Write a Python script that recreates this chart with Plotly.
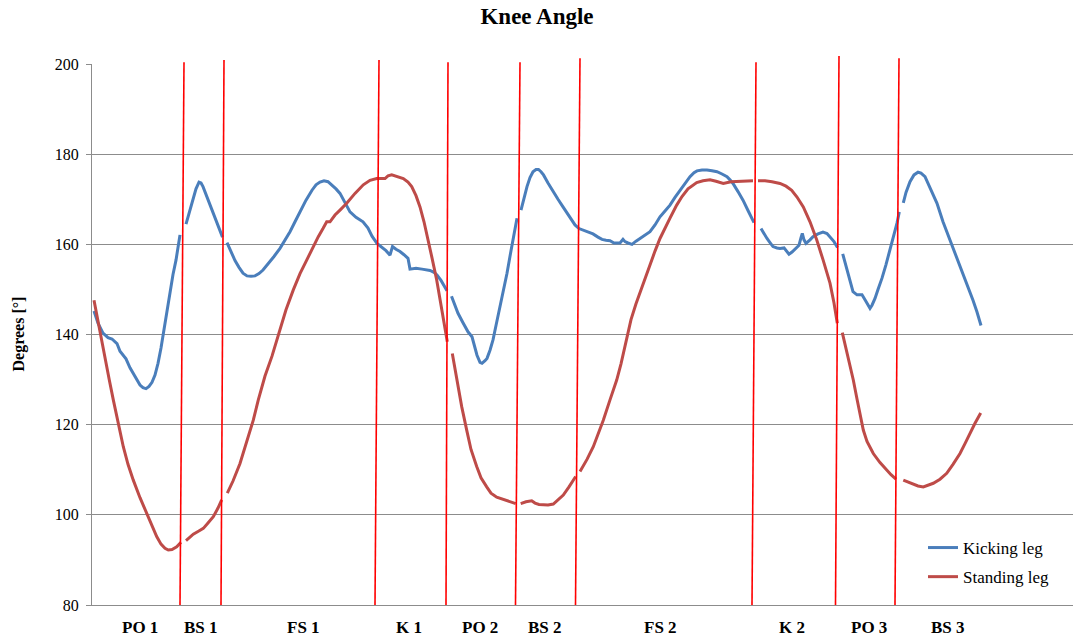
import plotly.graph_objects as go

# ---------------- data (frame index vs knee angle in degrees) ----------------
# Kicking leg, segments separated by None (gaps at phase boundaries)
kick_x = [94, 98, 103, 108, 112, 117, 120, 123, 126, 130, 135, 140, 143, 146, 149, 152, 155, 158, 161, 164, 167, 170, 173, 176, 180, None,
          186, 189, 192, 196, 199, 201, 203, 207, 211, 215, 219, 222.5, None,
          227, 231, 235, 239, 243, 247, 251, 255, 259, 263, 268, 274, 280, 285, 290, 295, 300, 306, 312, 316, 320, 324, 328, 332, 336, 340,
          345, 350, 356, 363, 368, 372, 377, 382, 386, 390, 392.5, 396, 400, 404, 408, 410, 416, 422, 430, 434, 437, 441, 444, 447, None,
          451.5, 455, 458, 463, 468, 472, 474, 477, 480, 482, 485, 487, 490, 493, 496, 500, 503, 507, 511, 514, 517, None,
          521, 524, 527, 530, 533, 536, 538.5, 541, 543.5, 548, 553, 558, 563, 569, 575, 579, 583, 588, 593, 598, 602, 606, 610, 614, 616,
          620, 623, 625, 628, 632, 636, 640, 645, 650, 655, 660, 665, 670, 675, 680, 685, 690, 694, 697, 702, 707, 712, 717, 722, 727, 730,
          733, 738, 743, 748, 754, None,
          761, 764, 767, 770, 773, 777, 780, 784, 786, 789, 792, 795, 799, 801, 802.3, 804, 806, 810, 813, 818, 823, 827, 830, 834, 837.5, None,
          842.7, 845, 848, 851, 853, 857, 862, 865, 868, 870, 872, 875, 878, 882, 886, 890, 894, 897, 899.3, None,
          903.3, 906, 910, 914, 918, 921, 925, 928, 932, 937, 943, 950, 957, 963, 968, 973, 977, 981]
kick_y = [145.2, 142.5, 140.3, 139.3, 139.0, 138.0, 136.3, 135.5, 134.6, 132.6, 130.6, 128.8, 128.2, 128.0, 128.5, 129.4, 131.0, 133.6, 137.0, 141.0, 145.5, 149.8, 153.3, 156.5, 162.1, None,
          164.5, 166.8, 169.2, 172.3, 173.8, 173.6, 172.8, 170.5, 168.2, 166.0, 163.5, 161.6, None,
          160.4, 158.3, 156.4, 154.9, 153.6, 153.0, 152.9, 153.0, 153.5, 154.3, 155.6, 157.3, 159.1, 160.9, 162.8, 165.0, 167.2, 169.8, 172.0, 173.2, 173.8, 174.1, 173.9, 173.2, 172.3, 171.3,
          169.4, 167.2, 166.0, 165.0, 163.6, 161.8, 160.2, 159.3, 158.6, 157.6, 159.5, 158.9, 158.4, 157.7, 156.9, 154.5, 154.7, 154.5, 154.2, 153.8, 153.2, 152.0, 150.8, 149.7, None,
          148.5, 146.5, 144.7, 142.6, 140.6, 139.5, 138.0, 135.4, 133.8, 133.6, 134.2, 134.7, 136.5, 138.8, 142.0, 146.2, 149.5, 153.6, 158.6, 162.0, 165.8, None,
          167.6, 170.3, 172.8, 174.8, 176.1, 176.6, 176.6, 176.1, 175.4, 173.6, 171.7, 170.0, 168.3, 166.3, 164.3, 163.5, 163.2, 162.7, 162.3, 161.6, 161.1, 160.9, 160.8, 160.3, 160.3,
          160.3, 161.1, 160.6, 160.3, 160.0, 160.7, 161.3, 162.0, 162.8, 164.3, 166.1, 167.4, 168.7, 170.4, 172.0, 173.6, 175.0, 175.9, 176.3, 176.5, 176.5, 176.3, 176.1, 175.6, 175.0, 174.3,
          173.5, 171.7, 169.8, 167.5, 164.8, None,
          163.5, 162.3, 161.3, 160.4, 159.5, 159.2, 159.1, 159.2, 158.6, 157.8, 158.3, 158.9, 159.8, 161.5, 162.4, 161.0, 160.2, 161.0, 161.7, 162.3, 162.7, 162.4, 161.7, 160.6, 159.3, None,
          157.9, 156.0, 153.6, 151.2, 149.5, 148.8, 148.8, 147.7, 146.6, 145.8, 146.5, 148.0, 150.0, 152.5, 155.5, 158.7, 162.0, 164.7, 167.2, None,
          169.2, 171.5, 173.9, 175.4, 176.0, 175.8, 175.0, 173.5, 171.3, 169.1, 165.0, 161.0, 157.2, 153.6, 150.5, 147.6, 145.0, 142.0]

# Standing leg
stand_x = [94, 97, 100, 103, 106, 109.3, 113.3, 118, 123.3, 128, 133.3, 140, 146.7, 151, 156.7, 161, 165, 168.3, 172, 176.7, 181, None,
           186, 190, 193.3, 198, 203.3, 208, 213.3, 218, 221.7, None,
           227.3, 233, 240, 246, 253.3, 258.3, 265, 272, 280, 286, 293.3, 300, 306.7, 312, 318.3, 323, 326.7, 330, 335, 340, 346.7, 355, 363.3,
           370, 376.7, 385, 388, 391.7, 397, 403.3, 408, 411.7, 416, 420, 424, 428.3, 432, 436.7, 442, 447.3, None,
           452.3, 456.7, 461.7, 466.7, 471, 476.7, 481, 486.7, 491, 496.7, 501, 506.7, 511, 515.7, None,
           520.7, 526, 531.7, 535, 539, 543.3, 548, 553.3, 558, 563.3, 569, 575.7, None,
           580, 587, 593.3, 598, 603.3, 610, 616.7, 621, 626.7, 631, 636, 643.3, 650, 655, 660, 665, 670, 676.7, 682, 688, 696.7, 703, 710, 716,
           723.3, 731, 740, 747, 753, None,
           758, 765, 772, 780, 786, 791.7, 797, 803.3, 810, 816.7, 823, 830, 834, 837.3, None,
           842.3, 846, 850, 853.3, 857, 860, 863.3, 867, 873.3, 880, 886.7, 891, 896, None,
           903.3, 908, 913.3, 918, 923.3, 928, 933.3, 940, 946.7, 953, 960, 965, 970, 975, 980.7]
stand_y = [147.6, 144.0, 140.5, 137.0, 133.5, 129.9, 125.5, 120.3, 115.1, 111.2, 107.7, 103.8, 100.3, 98.0, 95.2, 93.5, 92.6, 92.2, 92.3, 92.9, 93.9, None,
           94.3, 95.0, 95.7, 96.3, 97.0, 98.2, 99.6, 101.5, 103.3, None,
           104.8, 107.5, 111.4, 115.5, 121.0, 125.5, 130.8, 135.2, 141.0, 145.5, 149.9, 153.5, 156.5, 159.0, 161.7, 163.5, 165.0, 165.0, 166.5, 167.6, 169.1, 171.3, 173.2,
           174.2, 174.6, 174.6, 175.2, 175.4, 175.0, 174.6, 173.8, 172.8, 170.8, 168.3, 165.0, 161.0, 157.0, 152.1, 145.5, 138.4, None,
           135.8, 129.9, 124.0, 118.8, 114.5, 110.7, 108.2, 106.2, 104.8, 103.9, 103.6, 103.3, 102.9, 102.5, None,
           102.5, 102.9, 103.1, 102.6, 102.3, 102.2, 102.2, 102.4, 103.3, 104.4, 106.2, 108.5, None,
           109.6, 112.3, 115.1, 117.8, 121.0, 125.5, 129.9, 133.5, 139.5, 143.3, 146.8, 151.4, 155.2, 158.5, 161.3, 163.7, 165.8, 168.7, 170.6, 172.3, 173.7, 174.1, 174.3, 174.0,
           173.5, 173.9, 174.0, 174.1, 174.1, None,
           174.1, 174.1, 173.9, 173.5, 172.9, 172.0, 170.5, 168.3, 165.0, 161.0, 156.6, 151.4, 147.0, 142.5, None,
           140.4, 137.0, 133.4, 129.9, 125.7, 122.4, 118.8, 116.3, 113.6, 111.6, 109.9, 108.9, 107.9, None,
           107.7, 107.3, 106.8, 106.4, 106.2, 106.5, 107.0, 107.9, 109.2, 111.2, 113.6, 115.8, 118.1, 120.3, 122.6]

# Phase boundary markers (hand-drawn red lines): frame at bottom, frame at top, top angle
phase_bottom_x = [180, 221, 375, 446, 515.5, 575.5, 752, 835.5, 895]
phase_top_x = [184, 224, 379, 448, 520, 580, 756, 839, 899]
phase_top_y = [200.4, 200.9, 200.9, 200.4, 200.4, 201.3, 200.4, 201.8, 201.3]

# Phase labels
phase_labels = ["PO 1", "BS 1", "FS 1", "K 1", "PO 2", "BS 2", "FS 2", "K 2", "PO 3", "BS 3"]
phase_label_x = [140, 201, 303, 409, 480, 545, 660, 792, 869, 948]

Y_MIN, Y_MAX = 80, 200
X_MIN, X_MAX = 92, 1073

FIG_W, FIG_H = 1073, 638
PLOT_TOP, PLOT_H = 64, 541

SERIF = "Liberation Serif, Times New Roman, serif"
BLUE = "#4A7EBB"
RED = "#BE4B48"
GRID = "#8C8C8C"

fig = go.Figure()
fig.add_trace(go.Scatter(x=kick_x, y=kick_y, mode="lines", name="Kicking leg",
                         line=dict(color=BLUE, width=3), connectgaps=False,
                         legendgroup="a"))
fig.add_trace(go.Scatter(x=stand_x, y=stand_y, mode="lines", name="Standing leg",
                         line=dict(color=RED, width=3), connectgaps=False,
                         legendgroup="b"))

for xb, xt, yt in zip(phase_bottom_x, phase_top_x, phase_top_y):
    fig.add_shape(type="line", xref="x", yref="paper",
                  x0=xb, y0=0, x1=xt, y1=(yt - Y_MIN) / (Y_MAX - Y_MIN),
                  line=dict(color="#FF0000", width=1.6), layer="above")

for lab, lx in zip(phase_labels, phase_label_x):
    fig.add_annotation(x=lx, xref="x", y=0, yref="paper", yshift=-22,
                       text=f"<b>{lab}</b>", showarrow=False,
                       xanchor="center", yanchor="middle",
                       font=dict(family=SERIF, size=17, color="#000000"))

fig.add_annotation(x=0, xref="paper", xshift=-(92 - 18), y=0.5, yref="paper",
                   text="<b>Degrees [°]</b>", showarrow=False, textangle=-90,
                   xanchor="center", yanchor="middle",
                   font=dict(family=SERIF, size=16, color="#000000"))

fig.update_layout(
    width=FIG_W, height=FIG_H,
    margin=dict(l=92, r=0, t=PLOT_TOP, b=FIG_H - PLOT_TOP - PLOT_H),
    paper_bgcolor="white", plot_bgcolor="white",
    title=dict(text="<b>Knee Angle</b>", x=537 / FIG_W, xref="container", xanchor="center",
               y=1 - 16 / FIG_H, yref="container", yanchor="middle",
               font=dict(family=SERIF, size=23, color="#000000")),
    showlegend=True,
    legend=dict(x=(923 - X_MIN) / (X_MAX - X_MIN), xanchor="left",
                y=1 - (530 - PLOT_TOP) / PLOT_H, yanchor="top",
                bgcolor="rgba(0,0,0,0)", tracegroupgap=4,
                font=dict(family=SERIF, size=17, color="#000000")),
    xaxis=dict(range=[X_MIN, X_MAX], showgrid=False, zeroline=False,
               showticklabels=False, ticks="", showline=True,
               linecolor=GRID, linewidth=1),
    yaxis=dict(range=[Y_MIN, Y_MAX], dtick=20, tick0=80, showgrid=True,
               gridcolor=GRID, gridwidth=1, zeroline=False,
               showline=True, linecolor=GRID, linewidth=1,
               ticks="outside", ticklen=5, tickcolor=GRID,
               ticklabelstandoff=4,
               tickfont=dict(family=SERIF, size=16, color="#000000")),
)

# remove the default page margin so the figure fills the browser window exactly
fig.write_html("out.html", config={"displayModeBar": False},
               post_script="document.body.style.margin='0';document.body.style.overflow='hidden';")
